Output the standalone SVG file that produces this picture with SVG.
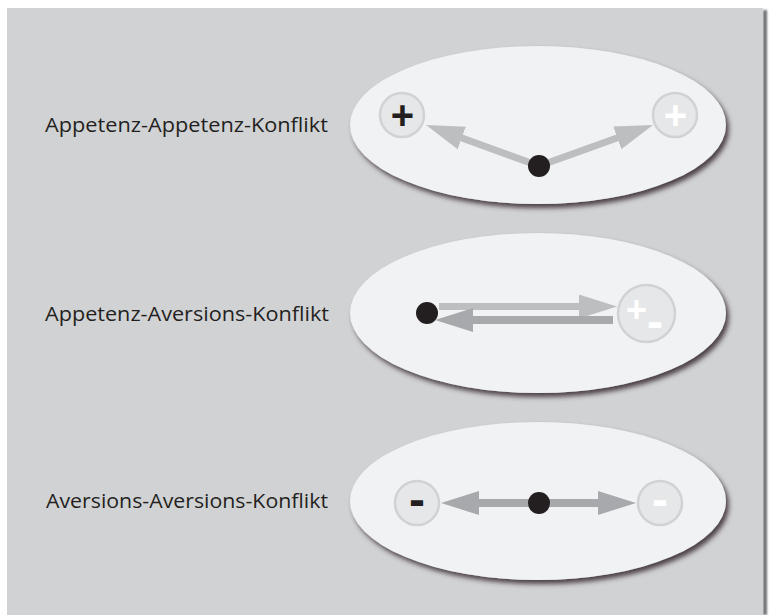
<svg xmlns="http://www.w3.org/2000/svg" width="771" height="615" viewBox="0 0 771 615">
<defs>
<filter id="sh" x="-10%" y="-10%" width="125%" height="130%">
<feDropShadow dx="3" dy="4" stdDeviation="2.5" flood-color="#3d3337" flood-opacity="0.9"/>
</filter>
<filter id="blur1" x="-100%" y="-1%" width="300%" height="102%">
<feGaussianBlur stdDeviation="1"/>
</filter>
<marker id="hl" markerUnits="userSpaceOnUse" markerWidth="38" markerHeight="24" refX="18" refY="12" orient="auto" viewBox="0 0 38 24">
<path d="M0,0 L38,12 L0,24 z" fill="#bcbec0"/>
</marker>
<marker id="hd" markerUnits="userSpaceOnUse" markerWidth="38" markerHeight="24" refX="18" refY="12" orient="auto" viewBox="0 0 38 24">
<path d="M0,0 L38,12 L0,24 z" fill="#a7a9ac"/>
</marker>
</defs>
<style>
.bg{fill:#d1d2d4}
.oval{fill:#f1f2f3;filter:url(#sh)}
.circ{fill:#e6e7e8;stroke:#d1d2d4;stroke-width:2.5}
.dot{fill:#231f20}
.lbl{font-family:"Open Sans","Liberation Sans",sans-serif;font-size:19.5px;fill:#231f20}
.sym{font-family:"Liberation Sans",Arial,sans-serif;font-weight:bold;text-anchor:middle}
.light{stroke:#bcbec0;stroke-width:7;fill:none;marker-end:url(#hl)}
.dark{stroke:#a7a9ac;stroke-width:8;fill:none;marker-end:url(#hd)}
</style>
<rect x="0" y="0" width="771" height="615" fill="#ffffff"/>
<rect x="763" y="10" width="4" height="605" fill="#6d6e71" filter="url(#blur1)"/>
<rect class="bg" x="7" y="8" width="756" height="607"/>

<g id="node-aa">
<ellipse class="oval" cx="538" cy="125" rx="188" ry="79"/>
<text class="lbl" x="45" y="132" textLength="283" lengthAdjust="spacingAndGlyphs">Appetenz-Appetenz-Konflikt</text>
</g>
<g id="node-av">
<ellipse class="oval" cx="538" cy="313" rx="188" ry="80"/>
<text class="lbl" x="45" y="321" textLength="284" lengthAdjust="spacingAndGlyphs">Appetenz-Aversions-Konflikt</text>
</g>
<g id="node-vv">
<ellipse class="oval" cx="538" cy="501" rx="188" ry="79"/>
<text class="lbl" x="46" y="508" textLength="282" lengthAdjust="spacingAndGlyphs">Aversions-Aversions-Konflikt</text>
</g>

<g id="connectors">
<line class="light" x1="539" y1="166" x2="444.8" y2="131.8"/>
<line class="light" x1="539" y1="166" x2="634.2" y2="131.8"/>
<line class="light" x1="439" y1="306.5" x2="597" y2="306.5"/>
<line class="dark" x1="613" y1="320" x2="455" y2="320"/>
<line class="dark" x1="539" y1="503" x2="461" y2="503"/>
<line class="dark" x1="539" y1="503" x2="616" y2="503"/>
</g>

<g id="aa-plus-left">
<circle class="circ" cx="402" cy="115" r="22"/>
<text class="sym" x="402.5" y="129" font-size="40" fill="#231f20">+</text>
</g>
<g id="aa-plus-right">
<circle class="circ" cx="675" cy="115" r="22"/>
<text class="sym" x="675.5" y="129" font-size="40" fill="#ffffff">+</text>
</g>
<g id="aa-dot"><circle class="dot" cx="539" cy="166" r="11"/></g>

<g id="av-dot"><circle class="dot" cx="427" cy="313" r="11"/></g>
<g id="av-plusminus">
<circle class="circ" cx="646.5" cy="313.5" r="28.5"/>
<text class="sym" x="636.5" y="322" font-size="36" fill="#ffffff">+</text>
<text class="sym" x="655" y="338" font-size="48" fill="#ffffff">-</text>
</g>

<g id="vv-minus-left">
<circle class="circ" cx="417" cy="503" r="22"/>
<text class="sym" x="417" y="516" font-size="48" fill="#231f20">-</text>
</g>
<g id="vv-dot"><circle class="dot" cx="539" cy="503" r="11"/></g>
<g id="vv-minus-right">
<circle class="circ" cx="660" cy="503" r="22"/>
<text class="sym" x="660" y="516" font-size="48" fill="#ffffff">-</text>
</g>
</svg>
